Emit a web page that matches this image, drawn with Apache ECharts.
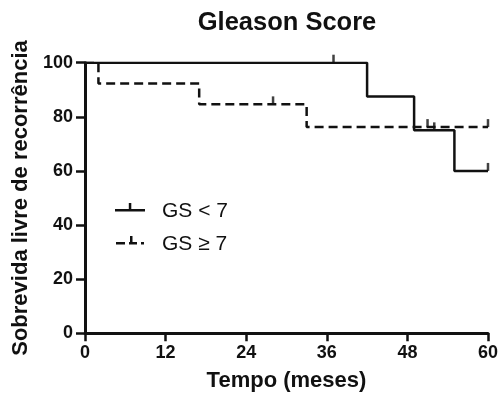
<!DOCTYPE html>
<html>
<head>
<meta charset="utf-8">
<style>
  html, body { margin: 0; padding: 0; background: #fff; }
  #chart { width: 501px; height: 398px; }
</style>
<script src="https://cdn.jsdelivr.net/npm/echarts@6/dist/echarts.min.js"></script>
</head>
<body>
<div id="chart"></div>
<script>
// Kaplan-Meier recurrence-free survival by Gleason score
const gsLowName = 'GS < 7';
const gsLowTimes = [0, 42, 49, 55, 60];
const gsLowSurvival = [100, 87.5, 75, 60, 60];
const gsLowCensorTimes = [37, 52, 60];
const gsLowCensorSurvival = [100, 75, 60];

const gsHighName = 'GS \u2265 7';
const gsHighTimes = [0, 2, 17, 33, 60];
const gsHighSurvival = [100, 92.3, 84.6, 76.2, 76.2];
const gsHighCensorTimes = [28, 51, 60];
const gsHighCensorSurvival = [84.6, 76.2, 76.2];

const monthTickStep = 12;
const survivalTickStep = 20;

const pair = (xs, ys) => xs.map((x, i) => [x, ys[i]]);

const ink = '#111';
const boldFont = '"Liberation Sans", Arial, sans-serif';

// legend glyphs: line with an upward censor tick (last subpath is a
// zero-area anchor so the line sits slightly above the text centre)
const solidIcon = 'path://M0,6 L30,6 L30,8.5 L0,8.5 Z M13.8,0 L16.3,0 L16.3,7 L13.8,7 Z M0,17 L0.01,17 L0,17 Z';
const dashedIcon = 'path://M0,6 L9,6 L9,8.5 L0,8.5 Z M13,6 L21,6 L21,8.5 L13,8.5 Z M14,0 L16.5,0 L16.5,7 L14,7 Z M25,6 L28,6 L28,8.5 L25,8.5 Z M0,17 L0.01,17 L0,17 Z';

const chart = echarts.init(document.getElementById('chart'), null, { renderer: 'canvas' });

const censorStyle = {
  type: 'scatter',
  symbol: 'rect',
  symbolSize: [2.5, 8],
  symbolOffset: [0, -4],
  itemStyle: { color: ink },
  silent: true,
  z: 3
};

chart.setOption({
  animation: false,
  backgroundColor: '#fff',
  title: {
    text: 'Gleason Score',
    left: 287,
    top: 10,
    padding: 0,
    textAlign: 'center',
    textStyle: { fontFamily: boldFont, fontWeight: 'bold', fontSize: 25.5, color: ink }
  },
  grid: { left: 85, right: 13, top: 62.7, bottom: 64.7, containLabel: false },
  legend: {
    orient: 'vertical',
    left: 110,
    top: 196,
    itemWidth: 30,
    itemHeight: 17,
    itemGap: 12,
    selectedMode: false,
    textStyle: { fontFamily: boldFont, fontSize: 21, color: ink, lineHeight: 21, padding: [0, 0, 0, 12] },
    data: [
      { name: gsLowName, icon: solidIcon, itemStyle: { color: ink } },
      { name: gsHighName, icon: dashedIcon, itemStyle: { color: ink } }
    ]
  },
  xAxis: {
    type: 'value',
    min: 0,
    max: 60,
    interval: monthTickStep,
    name: 'Tempo (meses)',
    nameLocation: 'middle',
    nameGap: 37,
    nameTextStyle: { fontFamily: boldFont, fontWeight: 'bold', fontSize: 22, color: ink },
    axisLine: { lineStyle: { color: ink, width: 3 } },
    axisTick: { length: 8, lineStyle: { color: ink, width: 2.5 } },
    axisLabel: { margin: 11, fontFamily: boldFont, fontWeight: 'bold', fontSize: 18, color: ink },
    splitLine: { show: false }
  },
  yAxis: {
    type: 'value',
    min: 0,
    max: 100,
    interval: survivalTickStep,
    name: 'Sobrevida livre de recorr\u00eancia',
    nameLocation: 'middle',
    nameGap: 53,
    nameTextStyle: { fontFamily: boldFont, fontWeight: 'bold', fontSize: 22, color: ink },
    axisLine: { show: true, lineStyle: { color: ink, width: 3 } },
    axisTick: { show: true, length: 9, lineStyle: { color: ink, width: 2.5 } },
    axisLabel: { margin: 12, fontFamily: boldFont, fontWeight: 'bold', fontSize: 18, color: ink },
    splitLine: { show: false }
  },
  series: [
    {
      name: gsLowName,
      type: 'line',
      step: 'end',
      data: pair(gsLowTimes, gsLowSurvival),
      showSymbol: false,
      lineStyle: { color: ink, width: 2.5 },
      itemStyle: { color: ink },
      z: 4
    },
    {
      name: gsHighName,
      type: 'line',
      step: 'end',
      data: pair(gsHighTimes, gsHighSurvival),
      showSymbol: false,
      lineStyle: { color: ink, width: 2.5, type: [9, 5] },
      itemStyle: { color: ink },
      z: 4
    },
    Object.assign({ name: 'censor-low', data: pair(gsLowCensorTimes, gsLowCensorSurvival) }, censorStyle),
    Object.assign({ name: 'censor-high', data: pair(gsHighCensorTimes, gsHighCensorSurvival) }, censorStyle)
  ]
});
</script>
</body>
</html>
